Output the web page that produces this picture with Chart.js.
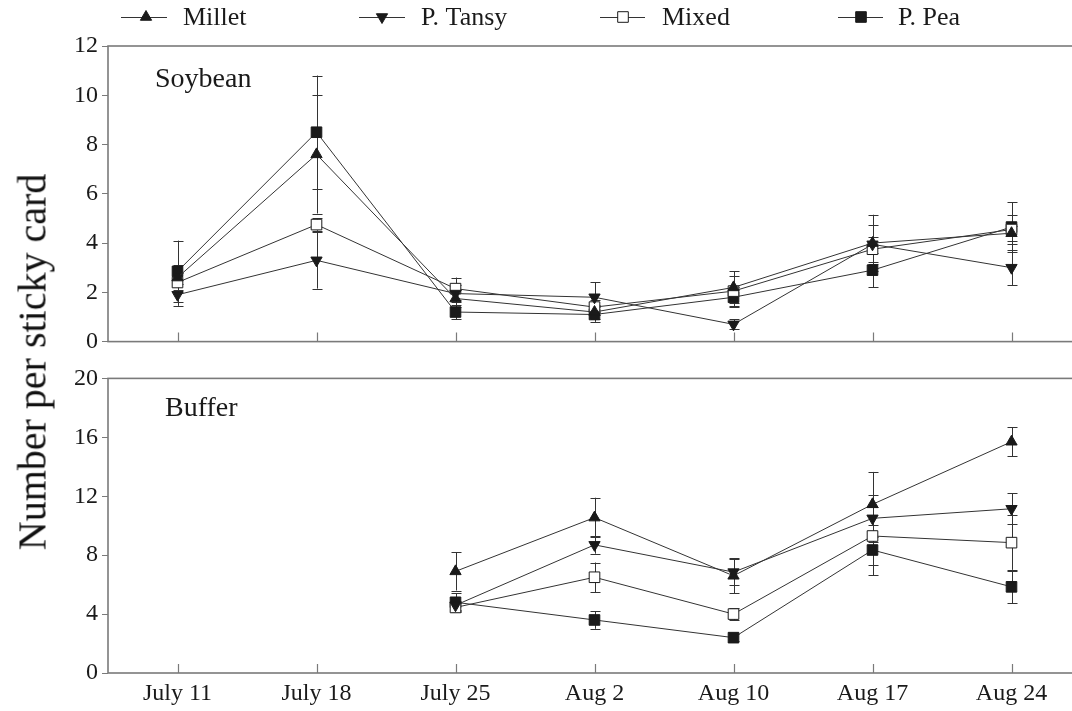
<!DOCTYPE html>
<html><head><meta charset="utf-8">
<script src="https://cdn.jsdelivr.net/npm/chart.js@4.4.1/dist/chart.umd.min.js"></script>
<style>
html,body{margin:0;padding:0;background:#fff;overflow:hidden;width:1072px;height:711px;}
#wrap{position:relative;width:1072px;height:711px;overflow:hidden;background:#fff;}
#c1{position:absolute;left:0;top:0;}
#c2{position:absolute;left:0;top:360px;}
#ytitle{position:absolute;left:32px;top:362px;transform:translate(-50%,-50%) rotate(-90deg);font-family:'Liberation Serif',serif;font-size:40px;white-space:nowrap;color:#111;}
</style></head>
<body>
<div id="wrap">
<canvas id="c1" width="1081" height="360" style="width:1081px;height:360px"></canvas>
<canvas id="c2" width="1081" height="351" style="width:1081px;height:351px"></canvas>
<div id="ytitle">Number per sticky card</div>
</div>
<script>
// ---- data ----
const categories = ['July 11','July 18','July 25','Aug 2','Aug 10','Aug 17','Aug 24'];
const seriesNames = ['Millet','P. Tansy','Mixed','P. Pea'];

const milletSoy = [2.6, 7.6, 1.75, 1.2, 2.2, 4.0, 4.4];
const tansySoy  = [1.9, 3.3, 1.95, 1.8, 0.7, 3.95, 3.0];
const mixedSoy  = [2.4, 4.75, 2.15, 1.4, 2.05, 3.75, 4.55];
const peaSoy    = [2.85, 8.5, 1.2, 1.1, 1.8, 2.9, 4.65];
const milletSoyErr = [0.5, 2.4, 0.35, 0.3, 0.65, 1.15, 0.3];
const tansySoyErr  = [0.45, 1.15, 0.35, 0.6, 0.2, 0.8, 0.7];
const mixedSoyErr  = [0.4, 0.25, 0.45, 0.3, 0.6, 0.5, 0.6];
const peaSoyErr    = [1.25, 2.3, 0.3, 0.3, 0.4, 0.7, 1.0];

const milletBuf = [null, null, 6.9, 10.55, 6.6, 11.45, 15.7];
const tansyBuf  = [null, null, 4.6, 8.7, 6.85, 10.5, 11.15];
const mixedBuf  = [null, null, 4.45, 6.5, 4.0, 9.3, 8.85];
const peaBuf    = [null, null, 4.8, 3.6, 2.4, 8.35, 5.85];
const milletBufErr = [null, null, 1.3, 1.35, 1.2, 2.2, 1.0];
const tansyBufErr  = [null, null, 0.3, 0.6, 0.9, 1.6, 1.05];
const mixedBufErr  = [null, null, 0.3, 1.0, 0.4, 2.0, 1.85];
const peaBufErr    = [null, null, 0.6, 0.6, 0.25, 1.7, 1.1];

const soyTicks = {min: 0, max: 12, step: 2};
const bufTicks = {min: 0, max: 20, step: 4};

// ---- styles ----
const FONT = "'Liberation Serif', 'Times New Roman', serif";
const INK = '#1a1a1a';
const FRAME = '#7a7a7a';
const markerStyles = [
  {pointStyle:'triangle', rotation:0, radius:6.5, bg:INK},
  {pointStyle:'triangle', rotation:180, radius:6.5, bg:INK},
  {pointStyle:'rect', rotation:0, radius:7.5, bg:'#ffffff'},
  {pointStyle:'rect', rotation:0, radius:7.5, bg:INK}
];

function makeDatasets(vals, errs){
  return vals.map((v,i)=>({
    label: seriesNames[i],
    data: v,
    err: errs[i],
    borderColor: '#333',
    borderWidth: 1,
    pointStyle: markerStyles[i].pointStyle,
    rotation: markerStyles[i].rotation,
    pointRadius: markerStyles[i].radius,
    pointHoverRadius: markerStyles[i].radius,
    pointBackgroundColor: markerStyles[i].bg,
    pointBorderColor: INK,
    pointBorderWidth: 1,
    spanGaps: false,
    tension: 0
  }));
}

const errorBars = {
  id: 'errorBars',
  beforeDatasetsDraw(chart){
    const ctx = chart.ctx, xs = chart.scales.x, ys = chart.scales.y;
    ctx.save();
    ctx.strokeStyle = '#333';
    ctx.lineWidth = 1;
    chart.data.datasets.forEach(ds=>{
      ds.data.forEach((v,i)=>{
        const e = ds.err[i];
        if (v == null || e == null) return;
        const x = Math.round(xs.getPixelForValue(i)) + 0.5;
        const y1 = ys.getPixelForValue(v - e), y2 = ys.getPixelForValue(v + e);
        ctx.beginPath();
        ctx.moveTo(x, y1); ctx.lineTo(x, y2);
        ctx.moveTo(x-5, Math.round(y1)+0.5); ctx.lineTo(x+5, Math.round(y1)+0.5);
        ctx.moveTo(x-5, Math.round(y2)+0.5); ctx.lineTo(x+5, Math.round(y2)+0.5);
        ctx.stroke();
      });
    });
    ctx.restore();
  }
};

const frame = {
  id: 'frame',
  afterDraw(chart, args, opts){
    const ctx = chart.ctx, a = chart.chartArea, xs = chart.scales.x;
    ctx.save();
    ctx.strokeStyle = FRAME;
    ctx.lineWidth = 1.6;
    ctx.strokeRect(a.left, a.top, a.right - a.left, a.bottom - a.top);
    ctx.lineWidth = 1.2;
    ctx.beginPath();
    categories.forEach((c,i)=>{
      const x = Math.round(xs.getPixelForValue(i)) + 0.5;
      ctx.moveTo(x, a.bottom); ctx.lineTo(x, a.bottom - 9);
    });
    ctx.stroke();
    ctx.fillStyle = INK;
    ctx.font = '28px ' + FONT;
    ctx.textBaseline = 'alphabetic';
    ctx.fillText(opts.label, opts.lx, opts.ly);
    ctx.restore();
  }
};

function drawMarker(ctx, st, x, y){
  ctx.beginPath();
  if (st.pointStyle === 'rect'){
    const s = st.radius / Math.SQRT2;
    ctx.rect(x - s, y - s, 2*s, 2*s);
  } else {
    const r = st.radius;
    const d = st.rotation === 180 ? -1 : 1;
    const h = r * 1.5, w = r * Math.sqrt(3) / 2;
    ctx.moveTo(x, y - d*r);
    ctx.lineTo(x - w, y + d*h/3);
    ctx.lineTo(x + w, y + d*h/3);
    ctx.closePath();
  }
  ctx.fillStyle = st.bg;
  ctx.fill();
  ctx.strokeStyle = INK;
  ctx.lineWidth = 1;
  ctx.stroke();
}

const legendPlugin = {
  id: 'lineLegend',
  afterDraw(chart){
    const ctx = chart.ctx;
    const items = [
      {x1:121, x2:167, mx:146, tx:183},
      {x1:359, x2:405, mx:382, tx:421},
      {x1:600, x2:645, mx:623, tx:662},
      {x1:838, x2:883, mx:861, tx:898}
    ];
    const y = 17;
    ctx.save();
    items.forEach((it,i)=>{
      ctx.strokeStyle = '#333'; ctx.lineWidth = 1;
      ctx.beginPath(); ctx.moveTo(it.x1, y+0.5); ctx.lineTo(it.x2, y+0.5); ctx.stroke();
      drawMarker(ctx, markerStyles[i], it.mx, y);
      ctx.fillStyle = INK;
      ctx.font = '26px ' + FONT;
      ctx.textBaseline = 'middle';
      ctx.fillText(seriesNames[i], it.tx, y + 1);
    });
    ctx.restore();
  }
};

function yScale(t){
  return {
    min: t.min, max: t.max,
    ticks: {stepSize: t.step, color: INK, font: {family: FONT, size: 24}, padding: 4},
    grid: {drawOnChartArea: false, drawTicks: true, tickLength: 6, color: FRAME, lineWidth: 1},
    border: {display: false},
    afterFit(s){ s.width = 108; }
  };
}

const common = {
  responsive: false,
  animation: false,
  events: [],
  plugins: {legend: {display: false}, tooltip: {enabled: false}}
};

new Chart(document.getElementById('c1'), {
  type: 'line',
  data: {labels: categories, datasets: makeDatasets([milletSoy, tansySoy, mixedSoy, peaSoy], [milletSoyErr, tansySoyErr, mixedSoyErr, peaSoyErr])},
  options: Object.assign({}, common, {
    layout: {autoPadding: false, padding: {top: 46, bottom: 16, left: 0, right: 0}},
    plugins: Object.assign({}, common.plugins, {frame: {label: 'Soybean', lx: 155, ly: 87}}),
    scales: {
      x: {type: 'category', offset: true, display: false},
      y: yScale(soyTicks)
    }
  }),
  plugins: [errorBars, frame, legendPlugin]
});

new Chart(document.getElementById('c2'), {
  type: 'line',
  data: {labels: categories, datasets: makeDatasets([milletBuf, tansyBuf, mixedBuf, peaBuf], [milletBufErr, tansyBufErr, mixedBufErr, peaBufErr])},
  options: Object.assign({}, common, {
    layout: {autoPadding: false, padding: {top: 17, bottom: 0, left: 0, right: 0}},
    plugins: Object.assign({}, common.plugins, {frame: {label: 'Buffer', lx: 165, ly: 56}}),
    scales: {
      x: {type: 'category', offset: true,
          ticks: {color: INK, font: {family: FONT, size: 24}, padding: 6, maxRotation: 0, autoSkip: false},
          grid: {display: false, drawTicks: false},
          border: {display: false},
          afterFit(s){ s.height = 38; }},
      y: yScale(bufTicks)
    }
  }),
  plugins: [errorBars, frame]
});
</script>
</body></html>
